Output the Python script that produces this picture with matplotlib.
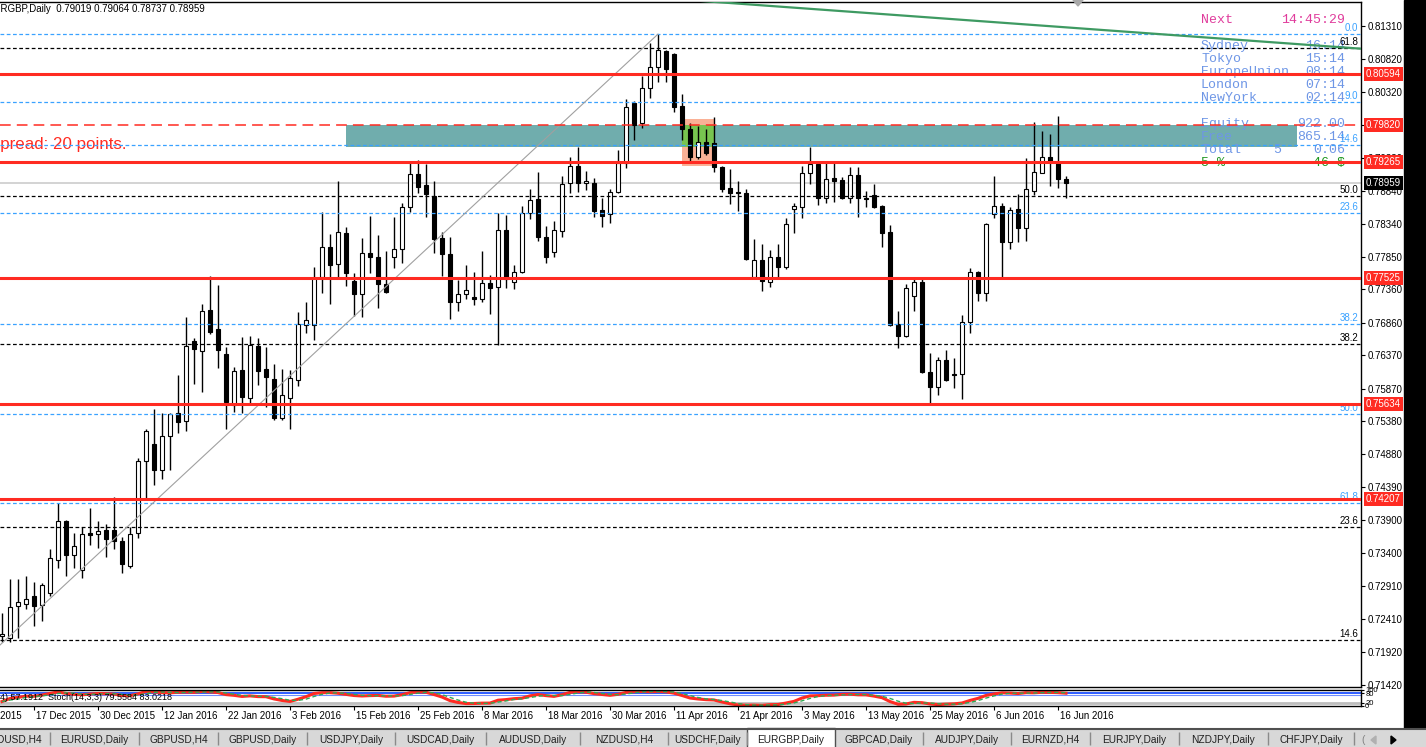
"""
EURGBP daily chart (MT4 style) with support/resistance, fibo levels and stochastic strip
"""

import numpy as np
import pandas as pd
import matplotlib
matplotlib.use("Agg")
import matplotlib.pyplot as plt
from matplotlib.patches import Rectangle, Polygon

plt.rcParams['font.family'] = ['Liberation Sans', 'DejaVu Sans']

### candle data, one bar per trading day (11 Dec 2015 .. 17 Jun 2016) ###
opens = [0.7216, 0.7213, 0.7261, 0.7264, 0.7276, 0.7262, 0.7280, 0.7330, 0.7388, 0.7337,
         0.7315, 0.7370, 0.7369, 0.7375, 0.7375, 0.7358, 0.7321, 0.7370, 0.7478, 0.7504,
         0.7465, 0.7516, 0.7550, 0.7538, 0.7658, 0.7643, 0.7705, 0.7676, 0.7639, 0.7562,
         0.7615, 0.7573, 0.7651, 0.7616, 0.7601, 0.7543, 0.7573, 0.7600, 0.7682, 0.7682,
         0.7754, 0.7800, 0.7774, 0.7820, 0.7748, 0.7729, 0.7790, 0.7785, 0.7744, 0.7785,
         0.7796, 0.7860, 0.7909, 0.7893, 0.7876, 0.7813, 0.7789, 0.7717, 0.7729, 0.7724,
         0.7721, 0.7745, 0.7739, 0.7825, 0.7747, 0.7762, 0.7850, 0.7871, 0.7815, 0.7792,
         0.7824, 0.7895, 0.7921, 0.7895, 0.7895, 0.7855, 0.7849, 0.7882, 0.7926, 0.8016,
         0.7986, 0.8038, 0.8070, 0.8094, 0.8089, 0.8011, 0.7977, 0.7934, 0.7957, 0.7956,
         0.7920, 0.7888, 0.7882, 0.7880, 0.7754, 0.7780, 0.7747, 0.7785, 0.7769, 0.7857,
         0.7860, 0.7911, 0.7924, 0.7873, 0.7903, 0.7900, 0.7873, 0.7908, 0.7873, 0.7877,
         0.7861, 0.7822, 0.7684, 0.7666, 0.7726, 0.7747, 0.7612, 0.7589, 0.7630, 0.7609,
         0.7609, 0.7687, 0.7762, 0.7730, 0.7849, 0.7861, 0.7807, 0.7857, 0.7828, 0.7884,
         0.7911, 0.7934, 0.7927, 0.79019]
highs = [0.7250, 0.7301, 0.7301, 0.7306, 0.7297, 0.7295, 0.7346, 0.7415, 0.7390, 0.7370,
         0.7379, 0.7408, 0.7388, 0.7384, 0.7424, 0.7364, 0.7379, 0.7483, 0.7526, 0.7556,
         0.7550, 0.7550, 0.7607, 0.7694, 0.7663, 0.7714, 0.7756, 0.7742, 0.7649, 0.7619,
         0.7664, 0.7666, 0.7663, 0.7649, 0.7624, 0.7616, 0.7615, 0.7702, 0.7717, 0.7769,
         0.7852, 0.7819, 0.7899, 0.7829, 0.7760, 0.7813, 0.7846, 0.7817, 0.7794, 0.7845,
         0.7866, 0.7926, 0.7930, 0.7924, 0.7899, 0.7822, 0.7815, 0.7750, 0.7772, 0.7762,
         0.7794, 0.7757, 0.7850, 0.7847, 0.7772, 0.7861, 0.7887, 0.7912, 0.7831, 0.7838,
         0.7906, 0.7934, 0.7950, 0.7913, 0.7903, 0.7873, 0.7887, 0.7945, 0.8022, 0.8019,
         0.8056, 0.8106, 0.8119, 0.8095, 0.8090, 0.8029, 0.7986, 0.7981, 0.7977, 0.7995,
         0.7921, 0.7916, 0.7899, 0.7887, 0.7811, 0.7804, 0.7795, 0.7804, 0.7843, 0.7866,
         0.7921, 0.7950, 0.7926, 0.7927, 0.7926, 0.7905, 0.7920, 0.7920, 0.7884, 0.7894,
         0.7863, 0.7832, 0.7703, 0.7744, 0.7753, 0.7753, 0.7640, 0.7634, 0.7645, 0.7633,
         0.7697, 0.7768, 0.7763, 0.7835, 0.7906, 0.7866, 0.7860, 0.7879, 0.7933, 0.7987,
         0.7974, 0.7969, 0.7996, 0.79064]
lows = [0.7207, 0.7207, 0.7213, 0.7256, 0.7231, 0.7238, 0.7276, 0.7318, 0.7306, 0.7318,
        0.7303, 0.7352, 0.7348, 0.7334, 0.7346, 0.7310, 0.7318, 0.7363, 0.7423, 0.7442,
        0.7451, 0.7465, 0.7520, 0.7523, 0.7594, 0.7582, 0.7669, 0.7618, 0.7526, 0.7552,
        0.7550, 0.7565, 0.7592, 0.7559, 0.7540, 0.7540, 0.7526, 0.7591, 0.7670, 0.7660,
        0.7730, 0.7714, 0.7754, 0.7741, 0.7696, 0.7694, 0.7760, 0.7708, 0.7730, 0.7768,
        0.7775, 0.7852, 0.7880, 0.7845, 0.7790, 0.7756, 0.7691, 0.7703, 0.7721, 0.7712,
        0.7717, 0.7699, 0.7652, 0.7738, 0.7736, 0.7760, 0.7841, 0.7808, 0.7775, 0.7785,
        0.7815, 0.7880, 0.7882, 0.7885, 0.7845, 0.7829, 0.7835, 0.7880, 0.7918, 0.7960,
        0.7978, 0.8023, 0.8047, 0.8047, 0.8002, 0.7960, 0.7926, 0.7931, 0.7937, 0.7912,
        0.7882, 0.7864, 0.7853, 0.7780, 0.7753, 0.7733, 0.7739, 0.7754, 0.7766, 0.7820,
        0.7843, 0.7894, 0.7863, 0.7866, 0.7867, 0.7871, 0.7866, 0.7845, 0.7860, 0.7858,
        0.7800, 0.7681, 0.7648, 0.7664, 0.7703, 0.7610, 0.7565, 0.7577, 0.7598, 0.7588,
        0.7571, 0.7670, 0.7718, 0.7718, 0.7843, 0.7754, 0.7796, 0.7807, 0.7808, 0.7877,
        0.7911, 0.7891, 0.7888, 0.78737]
closes = [0.7219, 0.7259, 0.7267, 0.7271, 0.7261, 0.7292, 0.7333, 0.7388, 0.7337, 0.7351,
          0.7369, 0.7367, 0.7373, 0.7361, 0.7358, 0.7324, 0.7369, 0.7478, 0.7523, 0.7465,
          0.7516, 0.7549, 0.7537, 0.7651, 0.7646, 0.7703, 0.7672, 0.7645, 0.7567, 0.7613,
          0.7574, 0.7652, 0.7613, 0.7604, 0.7543, 0.7577, 0.7603, 0.7684, 0.7690, 0.7753,
          0.7800, 0.7772, 0.7822, 0.7760, 0.7729, 0.7790, 0.7785, 0.7744, 0.7732, 0.7796,
          0.7860, 0.7909, 0.7890, 0.7879, 0.7811, 0.7789, 0.7717, 0.7729, 0.7735, 0.7721,
          0.7745, 0.7738, 0.7825, 0.7751, 0.7762, 0.7850, 0.7870, 0.7815, 0.7785, 0.7825,
          0.7894, 0.7921, 0.7895, 0.7899, 0.7853, 0.7846, 0.7882, 0.7926, 0.8010, 0.7983,
          0.8038, 0.8070, 0.8095, 0.8067, 0.8010, 0.7977, 0.7934, 0.7957, 0.7941, 0.7920,
          0.7887, 0.7880, 0.7881, 0.7781, 0.7780, 0.7748, 0.7785, 0.7769, 0.7834, 0.7861,
          0.7911, 0.7924, 0.7873, 0.7901, 0.7899, 0.7873, 0.7908, 0.7873, 0.7871, 0.7860,
          0.7820, 0.7682, 0.7666, 0.7738, 0.7747, 0.7612, 0.7589, 0.7630, 0.7600, 0.7607,
          0.7687, 0.7762, 0.7730, 0.7834, 0.7861, 0.7807, 0.7855, 0.7828, 0.7887, 0.7912,
          0.7934, 0.7927, 0.7901, 0.78959]

header_text = "EURGBP,Daily  0.79019 0.79064 0.78737 0.78959"
bid_price = 0.78959

# horizontal levels drawn on the chart
support_levels = [0.80594, 0.79265, 0.77525, 0.75634, 0.74207]
dashed_level = 0.79820

# fibo 1 (blue): 0 % at the swing high, 100 % below the chart
fib_blue_0 = 0.8119
fib_blue_100 = 0.6980
fib_blue_levels = [0.0, 9.0, 14.6, 23.6, 38.2, 50.0, 61.8]
# fibo 2 (black)
fib_black_0 = 0.6935
fib_black_100 = 0.8817
fib_black_levels = [14.6, 23.6, 38.2, 50.0, 61.8]

# trendlines: (bar, price) end points
trend_gray_bars = [-0.25, 82]
trend_gray_prices = [0.7202, 0.8119]
trend_green_bars = [86, 170]
trend_green_prices = [0.8170, 0.8097]

# zones: [bar_from, bar_to, price_low, price_high]
zone_teal = [43.0, 161.9, 0.7950, 0.7982]
zone_salmon = [85.0, 89.0, 0.7921, 0.7992]
zone_green = [85.0, 89.0, 0.7950, 0.7982]

price_ticks = [0.81310, 0.80820, 0.80320, 0.79820, 0.79330, 0.78840, 0.78340, 0.77850,
               0.77360, 0.76860, 0.76370, 0.75870, 0.75380, 0.74880, 0.74390, 0.73900,
               0.73400, 0.72910, 0.72410, 0.71920, 0.71420]

date_labels = ["7 Dec 2015", "17 Dec 2015", "30 Dec 2015", "12 Jan 2016", "22 Jan 2016",
               "3 Feb 2016", "15 Feb 2016", "25 Feb 2016", "8 Mar 2016", "18 Mar 2016",
               "30 Mar 2016", "11 Apr 2016", "21 Apr 2016", "3 May 2016", "13 May 2016",
               "25 May 2016", "6 Jun 2016", "16 Jun 2016"]
date_bars = [-4 + 8 * i for i in range(len(date_labels))]

# session / account panel
panel_left = ["Sydney", "Tokyo", "EuropeUnion", "London", "NewYork"]
panel_right = ["16:14", "15:14", "08:14", "07:14", "02:14"]
account_left = ["Equity", "Free", "Total"]
account_right = ["922.00", "865.14", "0.06"]

stoch_text = "4) 57.1912  Stoch(14,3,3) 79.5584 83.0218"

tab_names = ["AUDUSD,H4", "EURUSD,Daily", "GBPUSD,H4", "GBPUSD,Daily", "USDJPY,Daily",
             "USDCAD,Daily", "AUDUSD,Daily", "NZDUSD,H4", "USDCHF,Daily", "EURGBP,Daily",
             "GBPCAD,Daily", "AUDJPY,Daily", "EURNZD,H4", "EURJPY,Daily", "NZDJPY,Daily",
             "CHFJPY,Daily"]
active_tab = "EURGBP,Daily"

# colours
RED = '#FF2B22'
BLUE = '#3AA2FF'
PANEL = '#6E96E6'

W, H = 1426, 747


def px_rect(x0, y0, x1, y1):
    """axes rectangle in figure fraction from pixel box"""
    return [x0 / W, 1 - y1 / H, (x1 - x0) / W, (y1 - y0) / H]


def fx(x):
    return x / W


def fy(y):
    return 1 - y / H


fig = plt.figure(figsize=(W / 100, H / 100), dpi=100, facecolor='white')

# main price window: 8 px per bar, bar 0 at x = 2 px
ax = fig.add_axes(px_rect(0, 2, 1361, 687))
ax.set_xlim(-0.25, 169.875)
ax.set_ylim(0.71390, 0.81672)

idx = np.arange(len(closes))
o = np.array(opens)
hi = np.array(highs)
lo = np.array(lows)
c = np.array(closes)
up = c >= o
body_lo = np.minimum(o, c)
body_h = np.abs(c - o)

# zones behind candles
for z, col in [(zone_teal, '#70ADAD'), (zone_salmon, '#FAB196'), (zone_green, '#78C450')]:
    ax.add_patch(Rectangle((z[0], z[2]), z[1] - z[0], z[3] - z[2],
                           facecolor=col, edgecolor='none', zorder=1))

ax.axhline(bid_price, color='#C8C8C8', lw=1.1, zorder=2)

# candles
ax.vlines(idx, lo, hi, color='black', lw=1.0, zorder=3)
ax.bar(idx[up], body_h[up], bottom=body_lo[up], width=0.6,
       facecolor='white', edgecolor='black', lw=0.8, zorder=4)
ax.bar(idx[~up], body_h[~up], bottom=body_lo[~up], width=0.6,
       facecolor='black', edgecolor='black', lw=0.8, zorder=4)

# fibo levels
for lvl in fib_blue_levels:
    p = fib_blue_0 - lvl / 100.0 * (fib_blue_0 - fib_blue_100)
    ax.axhline(p, color=BLUE, lw=0.9, dashes=(3, 2), zorder=5)
    ax.annotate('%.1f' % lvl, xy=(1, p), xycoords=('axes fraction', 'data'),
                xytext=(-3, 1), textcoords='offset pixels', ha='right', va='bottom',
                fontsize=7, color=BLUE, zorder=5)
for lvl in fib_black_levels:
    p = fib_black_0 + lvl / 100.0 * (fib_black_100 - fib_black_0)
    ax.axhline(p, color='black', lw=0.9, dashes=(3, 2), zorder=5)
    ax.annotate('%.1f' % lvl, xy=(1, p), xycoords=('axes fraction', 'data'),
                xytext=(-3, 1), textcoords='offset pixels', ha='right', va='bottom',
                fontsize=7, color='black', zorder=5)

# trendlines
ax.plot(trend_gray_bars, trend_gray_prices, color='#A0A0A0', lw=0.8, zorder=5)
ax.plot(trend_green_bars, trend_green_prices, color='#3E9A62', lw=1.6, zorder=5)

# support / resistance
for p in support_levels:
    ax.axhline(p, color=RED, lw=2.2, zorder=6)
ax.axhline(dashed_level, color=RED, lw=1.1, dashes=(7, 4), zorder=6)

# price axis on the right
ax.yaxis.tick_right()
ax.set_yticks(price_ticks)
ax.set_yticklabels(['%.5f' % v for v in price_ticks])
ax.tick_params(axis='y', length=3, width=0.8, pad=2, labelsize=7, direction='out')
ax.set_xticks([])
ax.spines['left'].set_visible(False)
for s in ['top', 'bottom', 'right']:
    ax.spines[s].set_color('black')
    ax.spines[s].set_linewidth(1.0)

# price labels on the axis
for p in support_levels + [dashed_level]:
    ax.annotate('%.5f' % p, xy=(1, p), xycoords=('axes fraction', 'data'),
                xytext=(5, 0), textcoords='offset pixels', ha='left', va='center',
                fontsize=7, color='white', zorder=8, annotation_clip=False,
                bbox=dict(boxstyle='square,pad=0.2', fc=RED, ec='none'))
ax.annotate('%.5f' % bid_price, xy=(1, bid_price), xycoords=('axes fraction', 'data'),
            xytext=(5, 0), textcoords='offset pixels', ha='left', va='center',
            fontsize=7, color='white', zorder=8, annotation_clip=False,
            bbox=dict(boxstyle='square,pad=0.2', fc='black', ec='none'))

# texts inside the chart (under the lines)
tf = fig.transFigure
ax.text(fx(-11), fy(145), "Spread: 20 points.", transform=tf, fontsize=12.2,
        color=RED, ha='left', va='center', zorder=4.5)

mono = dict(family='Liberation Mono', fontsize=9.5, transform=tf, va='center', zorder=4.5)
ax.text(fx(1201), fy(20), "Next", color='#E03C9C', ha='left', **mono)
ax.text(fx(1345), fy(20), "14:45:29", color='#E03C9C', ha='right', **mono)
for i, (a, b) in enumerate(zip(panel_left, panel_right)):
    ax.text(fx(1201), fy(46 + 13 * i), a, color=PANEL, ha='left', **mono)
    ax.text(fx(1345), fy(46 + 13 * i), b, color=PANEL, ha='right', **mono)
for i, (a, b) in enumerate(zip(account_left, account_right)):
    ax.text(fx(1201), fy(124 + 13 * i), a, color=PANEL, ha='left', **mono)
    ax.text(fx(1345), fy(124 + 13 * i), b, color=PANEL, ha='right', **mono)
ax.text(fx(1277), fy(150), "5", color=PANEL, ha='center', **mono)
ax.text(fx(1201), fy(163), "5 %", color='#1E961E', ha='left', **mono)
ax.text(fx(1345), fy(163), "46 $", color='#1E961E', ha='right', **mono)

# stochastic strip
ax2 = fig.add_axes(px_rect(0, 690, 1361, 706))
ax2.set_xlim(-0.25, 169.875)
ax2.set_ylim(0, 100)
hh = pd.Series(highs).rolling(14, min_periods=1).max()
ll = pd.Series(lows).rolling(14, min_periods=1).min()
num = (pd.Series(closes) - ll).rolling(3, min_periods=1).sum()
den = (hh - ll).rolling(3, min_periods=1).sum()
k_line = 100 * num / den
d_line = k_line.rolling(3, min_periods=1).mean()
ax2.axhline(80, color='#1E50FF', lw=1.3)
ax2.axhline(68, color='#6E8CFF', lw=0.8)
ax2.axhline(20, color='#BDBDBD', lw=2.0)
ax2.plot(idx, k_line, color=RED, lw=2.2)
ax2.plot(idx, d_line, color='#2EAA55', lw=1.0, dashes=(3, 2))
ax2.text(0, 0.55, stoch_text, transform=ax2.transAxes, fontsize=6.5,
         ha='left', va='center', color='black')
ax2.yaxis.tick_right()
ax2.set_yticks([0, 20, 80, 100])
ax2.set_yticklabels(['0', '20', '80', '100'])
ax2.tick_params(axis='y', length=2, pad=1, labelsize=5.5)
ax2.set_xticks([b for b in date_bars if b >= 0])
ax2.set_xticklabels([])
ax2.tick_params(axis='x', length=3, width=0.8, direction='out')
ax2.spines['left'].set_visible(False)
for s in ['top', 'bottom', 'right']:
    ax2.spines[s].set_linewidth(1.0)
for b, lab in zip(date_bars, date_labels):
    ax2.annotate(lab, xy=(b, 0), xycoords=('data', 'axes fraction'), xytext=(2, -5),
                 textcoords='offset pixels', ha='left', va='top', fontsize=7,
                 annotation_clip=False)

# window chrome: header, right strip, symbol tabs
ui = fig.add_axes([0, 0, 1, 1], zorder=10)
ui.set_xlim(0, W)
ui.set_ylim(H, 0)
ui.axis('off')
ui.patch.set_alpha(0)
ui.text(-13, 9, header_text, fontsize=7, ha='left', va='center', color='black')
ui.add_patch(Polygon([(1073, 0), (1083, 0), (1078, 6)], closed=True, color='#A8A8A8'))
ui.add_patch(Rectangle((1404, 0), 22, 728, color='black'))
ui.add_patch(Rectangle((0, 729), W, 18, color='#D8D8D8'))
ui.hlines(729, 0, W, color='#505050', lw=1.5)

tab_edges = [-24, 50, 139, 218, 307, 395, 486, 580, 668, 747, 835, 923, 1011, 1090,
             1179, 1268, 1354]
for i, name in enumerate(tab_names):
    x0, x1 = tab_edges[i], tab_edges[i + 1]
    if name == active_tab:
        ui.add_patch(Rectangle((x0, 728), x1 - x0, 20, facecolor='white',
                               edgecolor='#505050', lw=1.0))
    else:
        ui.vlines(x1, 732, 745, color='#8A8A8A', lw=1.0)
    ui.text((x0 + x1) / 2, 740, name, fontsize=7.3, ha='center', va='center',
            color='#202020')
ui.text(1361, 740, "(", fontsize=7.3, ha='left', va='center', color='#808080')
ui.add_patch(Polygon([(1376, 736), (1376, 744), (1371, 740)], closed=True, color='#B0B0B0'))
ui.add_patch(Polygon([(1391, 736), (1391, 744), (1396, 740)], closed=True, color='black'))

fig.savefig('out.png', dpi=100, facecolor='white')
